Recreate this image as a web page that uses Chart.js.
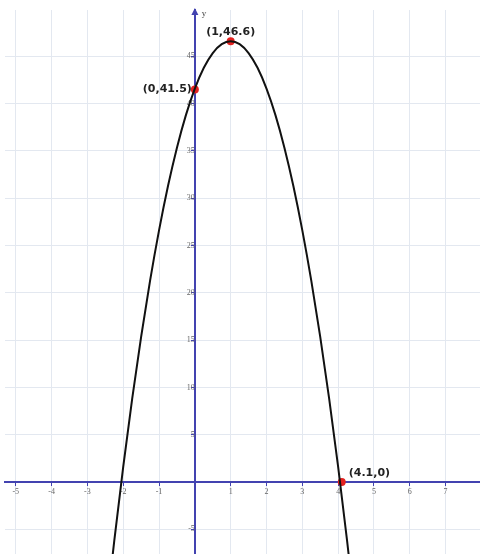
<!DOCTYPE html>
<html><head><meta charset="utf-8">
<script src="https://cdn.jsdelivr.net/npm/chart.js@4"></script>
<style>html,body{margin:0;padding:0;background:#fff}#wrap{width:480px;height:554px}</style>
</head><body><div id="wrap"><canvas id="c" width="480" height="554"></canvas></div>
<script>
// Curve samples
const curveX = [-2.5, -2.25, -2, -1.75, -1.5, -1.25, -1, -0.75, -0.5, -0.25, 0, 0.25, 0.5, 0.75, 1,
                1.25, 1.5, 1.75, 2, 2.25, 2.5, 2.75, 3, 3.25, 3.5, 3.75, 4, 4.25, 4.5];
const curveY = [-14.65, -6.21, 1.6, 8.79, 15.35, 21.29, 26.6, 31.29, 35.35, 38.79, 41.6, 43.79, 45.35, 46.29, 46.6,
                46.29, 45.35, 43.79, 41.6, 38.79, 35.35, 31.29, 26.6, 21.29, 15.35, 8.79, 1.6, -6.21, -14.65];
// Marked points
const pointX = [1, 0, 4.1];
const pointY = [46.6, 41.5, 0];
const pointLabels = ['(1,46.6)', '(0,41.5)', '(4.1,0)'];
// Ticks
const xTicks = [-5, -4, -3, -2, -1, 0, 1, 2, 3, 4, 5, 6, 7];
const yTicks = [-5, 0, 5, 10, 15, 20, 25, 30, 35, 40, 45];
const xRange = [-5.3, 7.96];
const yRange = [-7.6, 49.9];

const AXIS = '#4343b0';
const GRID = '#e3e8f0';

const labelPlugin = {
  id: 'pointLabels',
  afterDatasetsDraw(chart) {
    const {ctx, scales: {x, y}} = chart;
    ctx.save();
    ctx.font = 'bold 11px "DejaVu Sans", sans-serif';
    ctx.fillStyle = '#222';
    pointLabels.forEach((t, i) => {
      const px = x.getPixelForValue(pointX[i]);
      const py = y.getPixelForValue(pointY[i]);
      if (i === 0) { ctx.textAlign = 'center'; ctx.textBaseline = 'bottom'; ctx.fillText(t, px, py - 4); }
      else if (i === 1) { ctx.textAlign = 'right'; ctx.textBaseline = 'middle'; ctx.fillText(t, px - 3, py); }
      else { ctx.textAlign = 'left'; ctx.textBaseline = 'middle'; ctx.fillText(t, px + 7, py - 9); }
    });
    // arrow + axis name
    const ax = x.getPixelForValue(0);
    const top = chart.chartArea.top;
    ctx.fillStyle = AXIS;
    ctx.beginPath();
    ctx.moveTo(ax, top - 2);
    ctx.lineTo(ax - 3.5, top + 5);
    ctx.lineTo(ax + 3.5, top + 5);
    ctx.closePath();
    ctx.fill();
    ctx.fillStyle = '#444';
    ctx.font = '9px "Liberation Serif", serif';
    ctx.textAlign = 'left';
    ctx.textBaseline = 'middle';
    ctx.fillText('y', ax + 7, top + 4);
    ctx.restore();
  }
};

const noPad = s => { s.paddingLeft = 0; s.paddingRight = 0; s.paddingTop = 0; s.paddingBottom = 0; };

new Chart(document.getElementById('c'), {
  type: 'scatter',
  data: {
    datasets: [
      {
        data: curveX.map((v, i) => ({x: v, y: curveY[i]})),
        showLine: true,
        borderColor: '#111',
        borderWidth: 2,
        pointRadius: 0,
        cubicInterpolationMode: 'monotone',
        fill: false
      },
      {
        data: pointX.map((v, i) => ({x: v, y: pointY[i]})),
        backgroundColor: '#e3211f',
        borderColor: '#d01818',
        borderWidth: 0,
        pointRadius: 4
      }
    ]
  },
  options: {
    responsive: false,
    animation: false,
    devicePixelRatio: 1,
    layout: {autoPadding: false, padding: {left: 5, top: 10, right: 0, bottom: 0}},
    plugins: {legend: {display: false}, tooltip: {enabled: false}},
    scales: {
      x: {
        type: 'linear',
        min: xRange[0], max: xRange[1],
        position: {y: 0},
        afterBuildTicks: s => { s.ticks = xTicks.map(v => ({value: v})); },
        afterFit: noPad,
        grid: {color: GRID, lineWidth: 1, tickColor: AXIS, tickLength: 3},
        border: {display: true, color: AXIS, width: 2},
        ticks: {
          color: '#666', padding: 2, maxRotation: 0, autoSkip: false,
          font: {family: '"Liberation Serif", serif', size: 8},
          callback: v => v === 0 ? '' : String(v)
        }
      },
      y: {
        type: 'linear',
        min: yRange[0], max: yRange[1],
        position: {x: 0},
        afterBuildTicks: s => { s.ticks = yTicks.map(v => ({value: v})); },
        afterFit: noPad,
        grid: {color: GRID, lineWidth: 1, tickColor: AXIS, tickLength: 3},
        border: {display: true, color: AXIS, width: 2},
        ticks: {
          color: '#666', padding: 2, autoSkip: false,
          font: {family: '"Liberation Serif", serif', size: 8},
          callback: v => v === 0 ? '' : String(v)
        }
      }
    }
  },
  plugins: [labelPlugin]
});
</script>
</body></html>
